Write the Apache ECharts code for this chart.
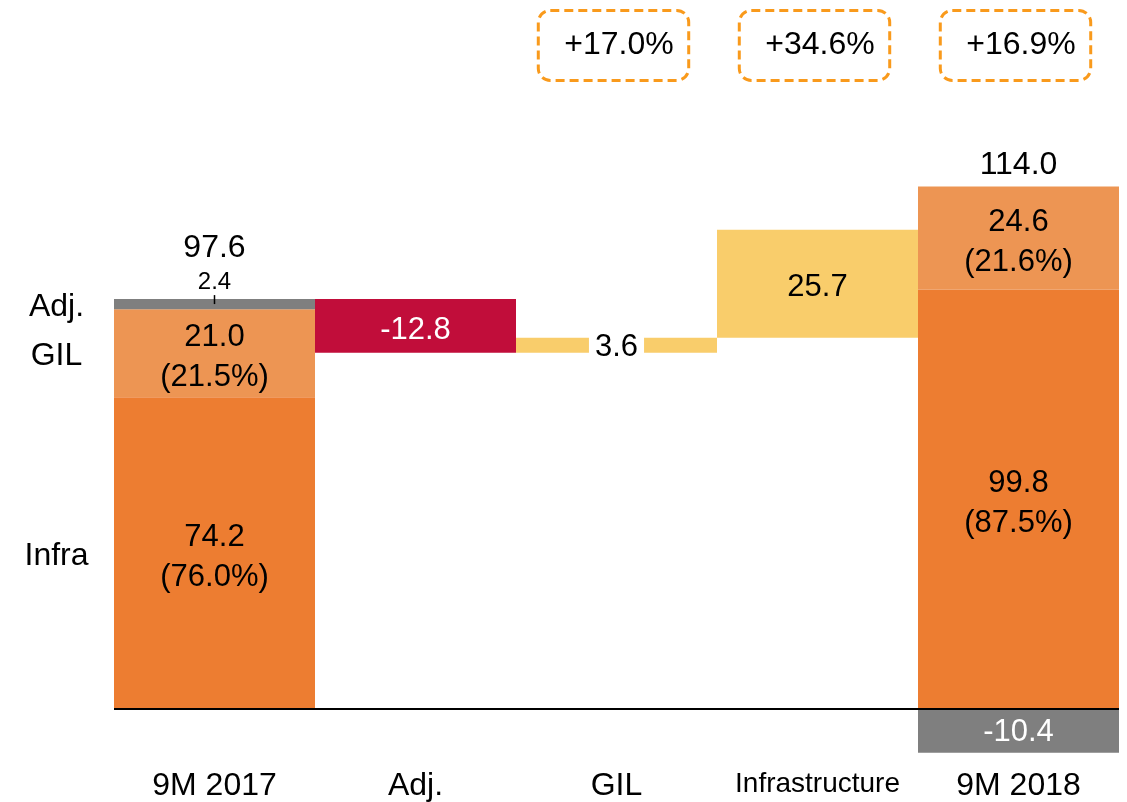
<!DOCTYPE html>
<html>
<head>
<meta charset="utf-8">
<script src="https://cdn.jsdelivr.net/npm/echarts@6/dist/echarts.min.js"></script>
<style>
    html, body {margin: 0; padding: 0; background: #ffffff;}
    #bridge-chart {width: 1127px; height: 802px;}
</style>
</head>
<body>
<div id="bridge-chart"></div>
<script>
var categories = ["9M 2017", "Adj.", "GIL", "Infrastructure", "9M 2018"];
// stacked totals (first and last column)
var infraValues = [74.2, null, null, null, 99.8];
var gilValues = [21.0, null, null, null, 24.6];
var adjValues = [2.4, null, null, null, -10.4];
var infraShares = ["76.0%", "", "", "", "87.5%"];
var gilShares = ["21.5%", "", "", "", "21.6%"];
var totalValues = [97.6, null, null, null, 114.0];
// bridge steps between the two totals
var changeValues = [null, -12.8, 3.6, 25.7, null];
var growthLabels = ["", "", "+17.0%", "+34.6%", "+16.9%"];
var segmentNames = ["Infra", "GIL", "Adj."];

var FONT = "'Liberation Sans', Arial, Helvetica, sans-serif";
var COLOR_INFRA = "#ED7D31";
var COLOR_GIL = "#ED9553";
var COLOR_ADJ = "#7F7F7F";
var COLOR_DOWN = "#C10D3A";
var COLOR_UP = "#F9CD6B";
var COLOR_BOX = "#F99A1C";
// text sits a little lower in the original than in echarts' centring
var TEXT_NUDGE = [0, 4];

function stackTop(i) {
    return infraValues[i] + gilValues[i] + Math.max(adjValues[i], 0);
}

function buildBridge() {
    var base = [];
    var steps = [];
    var run = totalValues[0];
    for (var i = 0; i < categories.length; i++) {
        var c = changeValues[i];
        if (c == null) {
            base.push(null);
            steps.push(null);
            continue;
        }
        base.push(c < 0 ? run + c : run);
        var isGil = categories[i] == "GIL";
        steps.push({
            value: Math.abs(c),
            itemStyle: {color: c < 0 ? COLOR_DOWN : COLOR_UP},
            label: {
                color: c < 0 ? "#ffffff" : "#000000",
                backgroundColor: isGil ? "#ffffff" : "transparent",
                padding: isGil ? [0, 6] : 0,
                offset: isGil ? [0, 2] : TEXT_NUDGE
            }
        });
        run += c;
    }
    return {base: base, steps: steps};
}

function initBridgeChart() {
    var chart = echarts.init(document.getElementById("bridge-chart"));
    var bridge = buildBridge();

    var adjData = adjValues.map(function (v, i) {
        if (v == null) return null;
        if (i == 0) {
            return {
                value: v,
                label: {
                    position: "top",
                    distance: -5,
                    formatter: "{s|" + v.toFixed(1) + "}\n{t|}",
                    rich: {
                        s: {fontSize: 24, lineHeight: 26, color: "#000", fontFamily: FONT},
                        t: {width: 1.5, height: 9, backgroundColor: "#000"}
                    }
                }
            };
        }
        return {
            value: v,
            label: {position: "inside", color: "#ffffff", offset: [0, 2]}
        };
    });

    var totalData = [];
    for (var i = 0; i < totalValues.length; i++) {
        if (totalValues[i] == null) continue;
        totalData.push({
            value: [i, stackTop(i)],
            label: {distance: i == 0 ? 35 : 5, formatter: totalValues[i].toFixed(1)}
        });
    }

    var first = 0;
    var nameData = [
        [first, infraValues[first] / 2],
        [first, infraValues[first] + gilValues[first] / 2],
        [first, infraValues[first] + gilValues[first] + adjValues[first] / 2]
    ];

    var growthData = [];
    for (var j = 0; j < growthLabels.length; j++) {
        if (growthLabels[j]) growthData.push({value: [j, 158], name: growthLabels[j]});
    }

    var option = {
        animation: false,
        textStyle: {fontFamily: FONT},
        grid: {left: 114, right: 8, top: 16, bottom: 29},
        xAxis: {
            type: "category",
            data: categories,
            axisLine: {show: false},
            axisTick: {show: false},
            axisLabel: {
                interval: 0,
                hideOverlap: false,
                margin: -2,
                fontSize: 32,
                color: "#000",
                fontFamily: FONT,
                formatter: function (value) {
                    return value == "Infrastructure" ? "{s|" + value + "}" : value;
                },
                rich: {s: {fontSize: 28, fontFamily: FONT, color: "#000"}}
            }
        },
        yAxis: {
            type: "value",
            min: -15,
            max: 165,
            show: false
        },
        series: [
            {
                name: "Infra",
                type: "bar",
                stack: "total",
                barWidth: "100%",
                barGap: "-100%",
                itemStyle: {color: COLOR_INFRA},
                data: infraValues,
                label: {
                    show: true,
                    position: "inside",
                    offset: TEXT_NUDGE,
                    fontSize: 31,
                    lineHeight: 40,
                    color: "#000",
                    formatter: function (p) {
                        return p.value.toFixed(1) + "\n(" + infraShares[p.dataIndex] + ")";
                    }
                },
                markLine: {
                    silent: true,
                    symbol: "none",
                    label: {show: false},
                    lineStyle: {color: "#000", width: 2, type: "solid"},
                    data: [{yAxis: 0}]
                }
            },
            {
                name: "GIL",
                type: "bar",
                stack: "total",
                barWidth: "100%",
                barGap: "-100%",
                itemStyle: {color: COLOR_GIL},
                data: gilValues,
                label: {
                    show: true,
                    position: "inside",
                    offset: TEXT_NUDGE,
                    fontSize: 31,
                    lineHeight: 40,
                    color: "#000",
                    formatter: function (p) {
                        return p.value.toFixed(1) + "\n(" + gilShares[p.dataIndex] + ")";
                    }
                }
            },
            {
                name: "Adj.",
                type: "bar",
                stack: "total",
                barWidth: "100%",
                barGap: "-100%",
                itemStyle: {color: COLOR_ADJ},
                data: adjData,
                label: {
                    show: true,
                    fontSize: 31,
                    formatter: function (p) {
                        return p.value.toFixed(1);
                    }
                }
            },
            {
                name: "Base",
                type: "bar",
                stack: "bridge",
                barWidth: "100%",
                barGap: "-100%",
                silent: true,
                itemStyle: {color: "transparent"},
                data: bridge.base
            },
            {
                name: "Change",
                type: "bar",
                stack: "bridge",
                barWidth: "100%",
                barGap: "-100%",
                data: bridge.steps,
                label: {
                    show: true,
                    position: "inside",
                    fontSize: 31,
                    formatter: function (p) {
                        return changeValues[p.dataIndex].toFixed(1);
                    }
                }
            },
            {
                name: "Total",
                type: "scatter",
                symbolSize: 0,
                silent: true,
                itemStyle: {opacity: 1},
                data: totalData,
                label: {show: true, position: "top", fontSize: 32, color: "#000"}
            },
            {
                name: "Segments",
                type: "scatter",
                symbolSize: 0,
                silent: true,
                itemStyle: {opacity: 1},
                data: nameData,
                label: {
                    show: true,
                    position: "inside",
                    offset: [-158, 3],
                    fontSize: 32,
                    color: "#000",
                    formatter: function (p) {
                        return segmentNames[p.dataIndex];
                    }
                }
            },
            {
                name: "Growth",
                type: "scatter",
                symbolSize: 0,
                silent: true,
                itemStyle: {opacity: 1},
                data: growthData,
                label: {
                    show: true,
                    position: "inside",
                    offset: [-3, 0],
                    fontSize: 32,
                    lineHeight: 32,
                    color: "#000",
                    padding: [19, 15, 19, 26],
                    borderColor: COLOR_BOX,
                    borderWidth: 3,
                    borderType: [9, 5],
                    borderRadius: 12,
                    formatter: "{b}"
                }
            }
        ]
    };
    chart.setOption(option);
}

initBridgeChart();
</script>
</body>
</html>
